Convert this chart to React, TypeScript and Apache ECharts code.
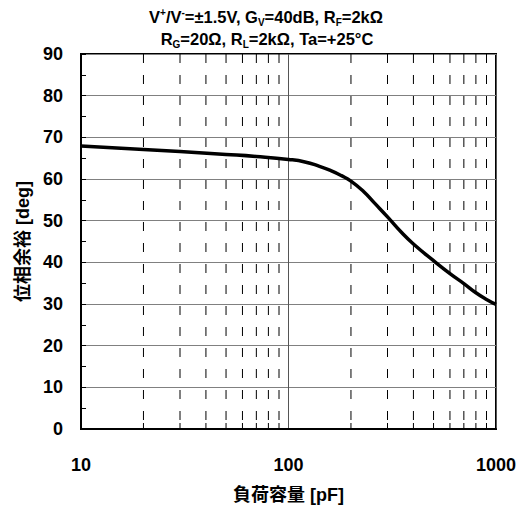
import React, { useEffect, useRef } from "react";
import * as echarts from "echarts";

// Load capacitance [pF] and measured phase margin [deg]
const capacitance = [10, 20, 30, 50, 70, 100, 120, 140, 160, 180, 200, 230, 260, 300, 350, 400, 500, 600, 700, 800, 900, 1000];
const phaseMargin = [67.9, 67.1, 66.6, 65.9, 65.4, 64.7, 64.1, 63.1, 62.0, 60.8, 59.5, 57.0, 54.2, 50.9, 47.2, 44.4, 40.4, 37.3, 34.9, 32.7, 31.1, 29.9];

// Intermediate decade lines (dashed)
const minorCapacitance = [20, 30, 40, 50, 60, 70, 80, 90, 200, 300, 400, 500, 600, 700, 800, 900];

const yMin = 0;
const yMax = 90;
const yStep = 10;

const FONT = "'Liberation Sans', 'Noto Sans CJK JP', Arial, sans-serif";

export default function App() {
  const ref = useRef<HTMLDivElement>(null);

  useEffect(() => {
    if (!ref.current) return;
    const chart = echarts.init(ref.current, null, { renderer: "svg" });

    const base = { fontSize: 16.5, fontWeight: "bold", fontFamily: FONT, lineHeight: 20, verticalAlign: "middle", fill: "#000" };
    const sup = { fontSize: 10, fontWeight: "bold", fontFamily: FONT, lineHeight: 10, verticalAlign: "top", fill: "#000" };
    const sub = { fontSize: 10, fontWeight: "bold", fontFamily: FONT, lineHeight: 10, verticalAlign: "bottom", fill: "#000" };
    const rich = { b: base, sup, sub };

    chart.setOption({
      animation: false,
      backgroundColor: "#fff",
      grid: {
        left: 81,
        right: 24,
        top: 54,
        bottom: 84,
        show: true,
        borderColor: "#000",
        borderWidth: 2,
      },
      graphic: [
        {
          type: "text",
          left: 150,
          top: -16,
          style: { text: "位相余裕－負荷容量特性", font: `bold 16px ${FONT}`, fill: "#000" },
        },
        {
          type: "text",
          x: 266,
          y: 17,
          style: {
            text: "{b|V}{sup|+}{b|/V}{sup|-}{b|=±1.5V, G}{sub|V}{b|=40dB, R}{sub|F}{b|=2kΩ}",
            rich,
            align: "center",
            verticalAlign: "middle",
          },
        },
        {
          type: "text",
          x: 267,
          y: 39,
          style: {
            text: "{b|R}{sub|G}{b|=20Ω, R}{sub|L}{b|=2kΩ, Ta=+25°C}",
            rich,
            align: "center",
            verticalAlign: "middle",
          },
        },
      ],
      xAxis: {
        type: "log",
        logBase: 10,
        min: 10,
        max: 1000,
        name: "負荷容量 [pF]",
        nameLocation: "middle",
        nameGap: 57,
        nameTextStyle: { fontSize: 18, fontWeight: "bold", fontFamily: FONT, color: "#000" },
        axisLine: { show: true, lineStyle: { color: "#000", width: 2 } },
        axisTick: { show: false },
        axisLabel: {
          fontSize: 18,
          fontWeight: "bold",
          fontFamily: FONT,
          color: "#000",
          margin: 27,
          formatter: (v: number) => String(Math.round(v)),
        },
        splitLine: { show: true, lineStyle: { color: "#555", width: 1 } },
      },
      yAxis: {
        type: "value",
        min: yMin,
        max: yMax,
        interval: yStep,
        name: "位相余裕 [deg]",
        nameLocation: "middle",
        nameGap: 49,
        nameTextStyle: { fontSize: 18, fontWeight: "bold", fontFamily: FONT, color: "#000" },
        axisLine: { show: true, lineStyle: { color: "#000", width: 2 } },
        axisTick: { show: true, inside: true, length: 5, lineStyle: { color: "#000" } },
        minorTick: { show: true, splitNumber: 2, length: 5, lineStyle: { color: "#000", width: 1 } },
        axisLabel: { fontSize: 18, fontWeight: "bold", fontFamily: FONT, color: "#000", margin: 18 },
        splitLine: { show: true, lineStyle: { color: "#808080", width: 1 } },
      },
      series: [
        {
          type: "custom",
          silent: true,
          z: 1,
          data: minorCapacitance.map((c) => [c]),
          renderItem: (_params: any, api: any) => {
            const top = api.coord([api.value(0), yMax]);
            const bot = api.coord([api.value(0), yMin]);
            return {
              type: "group",
              children: [
                {
                  type: "line",
                  shape: { x1: top[0], y1: top[1], x2: bot[0], y2: bot[1] },
                  style: { stroke: "#000", lineWidth: 1, lineDash: [9, 12] },
                },
                {
                  type: "line",
                  shape: { x1: bot[0], y1: bot[1], x2: bot[0], y2: bot[1] - 6 },
                  style: { stroke: "#000", lineWidth: 1 },
                },
              ],
            };
          },
        },
        {
          type: "line",
          z: 5,
          data: capacitance.map((c, i) => [c, phaseMargin[i]]),
          showSymbol: false,
          smooth: 0.5,
          lineStyle: { color: "#000", width: 3.5 },
        },
      ],
    });

    return () => chart.dispose();
  }, []);

  return <div ref={ref} style={{ width: 520, height: 513, position: "absolute", left: 0, top: 0 }} />;
}
